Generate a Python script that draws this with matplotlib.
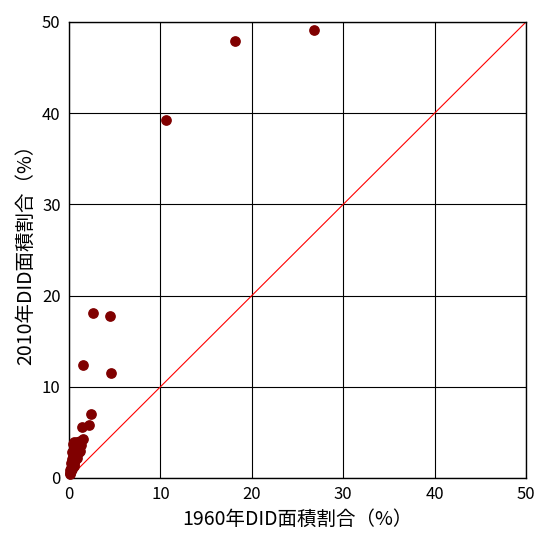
import matplotlib
matplotlib.use("Agg")
import matplotlib.pyplot as plt

plt.rcParams["font.family"] = ["Noto Sans CJK JP", "DejaVu Sans"]

DOT = "#800000"

# DID area share by prefecture (%), 1960 vs 2010
did_1960 = [26.8, 18.2, 10.6, 2.6, 4.5, 1.5, 4.6, 2.4, 2.2, 1.4,
            1.5, 1.2, 0.9, 0.6, 0.4, 1.3, 1.0, 0.7, 0.5, 0.3,
            1.1, 0.8, 0.6, 0.4, 0.3, 0.9, 0.7, 0.5, 0.3, 0.2,
            0.6, 0.4, 0.3, 0.2, 0.1, 0.5, 0.3, 0.2, 0.1, 0.1,
            1.2, 0.8]
did_2010 = [49.1, 47.9, 39.3, 18.1, 17.8, 12.4, 11.5, 7.0, 5.8, 5.6,
            4.3, 4.1, 4.0, 3.9, 3.7, 3.6, 3.4, 3.3, 3.1, 2.9,
            2.8, 2.7, 2.5, 2.3, 2.1, 2.2, 2.0, 1.9, 1.7, 1.6,
            1.5, 1.4, 1.2, 1.1, 0.9, 1.3, 1.0, 0.8, 0.6, 0.4,
            3.0, 2.4]

fig = plt.figure(figsize=(5.38, 5.35), dpi=100)
ax = fig.add_axes([69 / 538, 57 / 535, 457 / 538, 456 / 535])

ax.plot([0, 50], [0, 50], color="red", lw=0.8, zorder=2)
ax.scatter(did_1960, did_2010, s=45, color=DOT, zorder=3, clip_on=False)

ax.set_xlim(0, 50)
ax.set_ylim(0, 50)
ax.set_xticks(range(0, 51, 10))
ax.set_yticks(range(0, 51, 10))
ax.grid(True, color="black", lw=0.8)
ax.set_axisbelow(True)
for s in ax.spines.values():
    s.set_color("black")
    s.set_linewidth(1.0)
ax.tick_params(length=0, labelsize=12, pad=6)
ax.set_xlabel("1960年DID面積割合（%）", fontsize=14, labelpad=4)
ax.set_ylabel("2010年DID面積割合（%）", fontsize=14, labelpad=4)

fig.savefig("out.png", dpi=100, facecolor="white")
